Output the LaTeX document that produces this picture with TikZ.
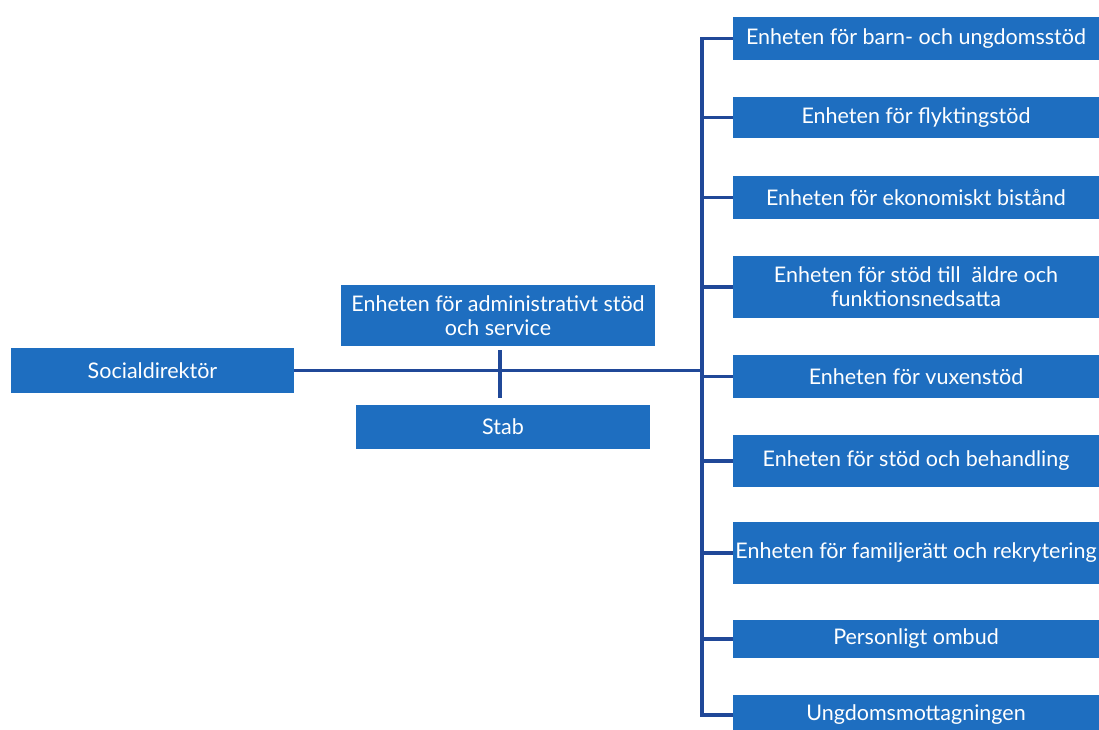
\documentclass[tikz,border=0pt]{standalone}
\usepackage{fontspec}
\setmainfont{Lato}
\definecolor{boxblue}{RGB}{30,110,192}
\definecolor{lineblue}{RGB}{32,72,152}

\begin{document}
\begin{tikzpicture}[x=1pt, y=-1pt,
    unit/.style={fill=boxblue, text=white, inner sep=0pt, align=center,
                 font=\fontsize{21.5}{24}\selectfont},
    link/.style={draw=lineblue, line width=3.5pt}]
            \useasboundingbox (0,0) rectangle (1099,729);

            % Define left part
            \node[unit, minimum width=283, minimum height=45] (soc) at (152.5, 370.5) {Socialdirektör};
            \node[unit, minimum width=314, minimum height=61] (adm) at (498, 315.5) {Enheten för administrativt stöd\\och service};
            \node[unit, minimum width=294, minimum height=44] (stab) at (503, 427) {Stab};

            % Define units
            \node[unit, minimum width=366, minimum height=43] (u1) at (916, 38.5) {Enheten för barn- och ungdomsstöd};
            \node[unit, minimum width=366, minimum height=41] (u2) at (916, 117.5) {Enheten för flyktingstöd};
            \node[unit, minimum width=366, minimum height=43] (u3) at (916, 197.5) {Enheten för ekonomiskt bistånd};
            \node[unit, minimum width=366, minimum height=62] (u4) at (916, 287) {Enheten för stöd till\ \ äldre och\\funktionsnedsatta};
            \node[unit, minimum width=366, minimum height=43] (u5) at (916, 376.5) {Enheten för vuxenstöd};
            \node[unit, minimum width=366, minimum height=52] (u6) at (916, 461) {Enheten för stöd och behandling};
            \node[unit, minimum width=366, minimum height=62] (u7) at (916, 553) {Enheten för familjerätt och rekrytering};
            \node[unit, minimum width=366, minimum height=38] (u8) at (916, 639) {Personligt ombud};
            \node[unit, minimum width=366, minimum height=40] (u9) at (916, 715) {Ungdomsmottagningen};
            \coordinate (bus) at (702, 0);

            % Draw lines
            \draw[link] (soc.east) -- (soc.east -| bus);
            \draw[link, shorten <=4pt, shorten >=7pt] (500, 346) -- (500, 405);
            \draw[link] (u1.west) -- (u1.west -| bus) -- (u9.west -| bus) -- (u9.west);
            \draw[link] (u2.west) -- (u2.west -| bus);
            \draw[link] (u3.west) -- (u3.west -| bus);
            \draw[link] (u4.west) -- (u4.west -| bus);
            \draw[link] (u5.west) -- (u5.west -| bus);
            \draw[link] (u6.west) -- (u6.west -| bus);
            \draw[link] (u7.west) -- (u7.west -| bus);
            \draw[link] (u8.west) -- (u8.west -| bus);
        \end{tikzpicture}
\end{document}
